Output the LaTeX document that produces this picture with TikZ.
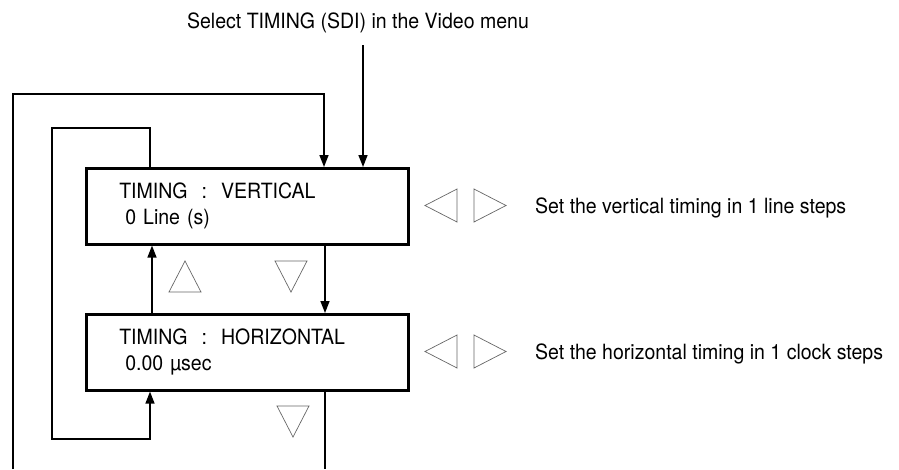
\documentclass[tikz,border=0pt]{standalone}
\usepackage{fontspec}
\setmainfont{TeX Gyre Heros}[FakeStretch=0.93]
\usetikzlibrary{arrows.meta}

\tikzset{
  menubox/.style={draw, line width=2.6pt, rectangle, anchor=north west,
    minimum width=322pt, minimum height=76pt, text width=256pt,
    inner xsep=33pt, inner ysep=0pt, align=left,
    font=\fontsize{21}{26}\selectfont},
  note/.style={inner sep=0pt, font=\fontsize{21}{26}\selectfont},
  link/.style={line width=1.5pt},
  arr/.style={link, -{Triangle[length=12pt,width=9pt]}},
  keytri/.style={draw=black!60, line width=0.7pt, line join=miter}
}

% front panel keys
\newcommand{\keyleft}[1]{\draw[keytri] (#1) ++(16,-16.5) -- ++(0,33) -- ++(-32,-16.5) -- cycle;}
\newcommand{\keyright}[1]{\draw[keytri] (#1) ++(-16,-16.5) -- ++(0,33) -- ++(32,-16.5) -- cycle;}
\newcommand{\keyup}[1]{\draw[keytri] (#1) ++(-16,15.5) -- ++(32,0) -- ++(-16,-31) -- cycle;}
\newcommand{\keydown}[1]{\draw[keytri] (#1) ++(-16,-15.5) -- ++(32,0) -- ++(-16,31) -- cycle;}

\begin{document}
\begin{tikzpicture}[x=1pt,y=-1pt]
\useasboundingbox (0,0) rectangle (899,469);

% Menu boxes
\node[menubox] (vert) at (85,167) {TIMING\ \ :\ \ VERTICAL\\\hspace*{6pt}0 Line (s)};
\node[menubox] (horiz) at (85,313) {TIMING\ \ :\ \ HORIZONTAL\\\hspace*{6pt}0.00 µsec};

% Text Node
\node[note, anchor=base] (sel) at (358,28) {Select TIMING (SDI) in the Video menu};
% Text Node
\node[note, anchor=base west] (vnote) at (535,213) {Set the vertical timing in 1 line steps};
% Text Node
\node[note, anchor=base west] (hnote) at (535,359) {Set the horizontal timing in 1 clock steps};

% loop corners
\coordinate (selend) at (363,45);
\coordinate (outL) at (13,469);
\coordinate (outT) at (324,94);
\coordinate (outR) at (325,469);
\coordinate (inTL) at (52,128);
\coordinate (inBR) at (150,439);
\coordinate (upc) at (152,278);
\coordinate (dnc) at (325,278);

% entry
\draw[arr] (selend) -- (selend |- vert.north);
% outer loop
\draw[arr] (outL) |- (outT) -- (outT |- vert.north);
\draw[link] (horiz.south -| outR) -- (outR);
% inner loop
\draw[arr] (vert.north -| inBR) |- (inTL) |- (inBR) -- (inBR |- horiz.south);
% up / down between boxes
\draw[arr] (horiz.north -| upc) -- (vert.south -| upc);
\draw[arr] (vert.south -| dnc) -- (horiz.north -| dnc);

% keys
\keyleft{441,205.5}
\keyright{490,205.5}
\keyleft{441,351.5}
\keyright{490,351.5}
\keyup{185,276.5}
\keydown{291,276.5}
\keydown{293,421.5}

\end{tikzpicture}
\end{document}
